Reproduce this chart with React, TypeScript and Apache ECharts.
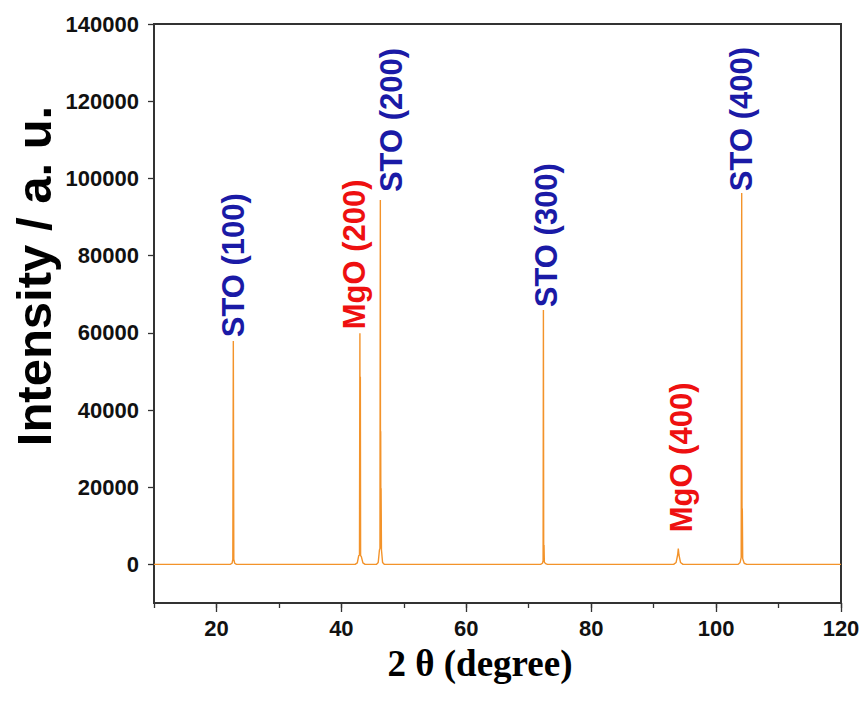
import React, { useEffect, useRef } from "react";
import * as echarts from "echarts";

// XRD pattern: 2θ (degree) and intensity (a. u.)
const twoTheta = [
  10, 22.2, 22.5, 22.62, 22.7, 22.78, 22.92, 23.2,
  42.2, 42.55, 42.78, 42.9, 42.97, 43.0, 43.04, 43.08, 43.2, 43.45, 43.8,
  45.6, 45.9, 46.1, 46.18, 46.24, 46.27, 46.3, 46.33, 46.36, 46.42, 46.6, 46.9,
  71.9, 72.2, 72.3, 72.35, 72.4, 72.45, 72.5, 72.7, 73.0,
  93.2, 93.6, 93.85, 93.95, 94.05, 94.3, 94.7,
  103.5, 103.85, 104.02, 104.1, 104.16, 104.2, 104.26, 104.5, 104.9,
  120,
];
const intensity = [
  0, 0, 300, 1300, 57900, 1300, 300, 0,
  0, 400, 2300, 2400, 59900, 2600, 48600, 2300, 2000, 400, 0,
  0, 500, 3800, 4100, 94400, 4100, 34500, 4100, 19700, 3800, 500, 0,
  0, 300, 1000, 65900, 1000, 5000, 600, 200, 0,
  0, 500, 2500, 4100, 2500, 500, 0,
  0, 500, 1800, 96200, 1800, 14500, 1500, 300, 0,
  0,
];

// Peak annotations
const peakLabels = ["STO (100)", "MgO (200)", "STO (200)", "STO (300)", "MgO (400)", "STO (400)"];
const peakPhase = ["STO", "MgO", "STO", "STO", "MgO", "STO"];
const labelTheta = [22.7, 43.0, 46.24, 72.35, 93.95, 104.1];
const labelIntensity = [58850, 60930, 96450, 66630, 8300, 96700];

// Axis ticks
const xTickLabels = [20, 40, 60, 80, 100, 120];
const yTickValues = [0, 20000, 40000, 60000, 80000, 100000, 120000, 140000];

const phaseColor: Record<string, string> = { STO: "#1a1aa6", MgO: "#ee1010" };
const labelDx = [0, -6, 11, 3, 3, 0];

export default function App() {
  const ref = useRef<HTMLDivElement>(null);
  useEffect(() => {
    if (!ref.current) return;
    const chart = echarts.init(ref.current, null, { renderer: "svg" });
    const axisColor = "#333";
    const tickFont = { fontFamily: '"Liberation Sans", Arial, sans-serif', fontWeight: "bold" as const, fontSize: 22, color: "#111" };
    chart.setOption({
      animation: false,
      backgroundColor: "#fff",
      grid: { left: 154, right: 24, top: 24, bottom: 103, show: true, borderColor: axisColor, borderWidth: 2, backgroundColor: "transparent" },
      xAxis: [
        {
          type: "value", position: "bottom", min: 10, max: 120, interval: 10,
          axisLine: { show: true, onZero: false, lineStyle: { color: axisColor, width: 2 } },
          axisTick: { show: true, inside: false, length: 5, lineStyle: { color: axisColor, width: 1.3 } },
          axisLabel: { ...tickFont, margin: 14, formatter: (v: number) => (xTickLabels.includes(v) ? String(v) : "") },
          splitLine: { show: false },
        },
        {
          type: "value", position: "bottom", min: 10, max: 120,
          axisLine: { show: false, onZero: false },
          axisTick: { show: true, inside: false, length: 9, customValues: xTickLabels, lineStyle: { color: axisColor, width: 1.3 } },
          axisLabel: { show: false },
          splitLine: { show: false },
        },
      ],
      yAxis: {
        type: "value", min: -10000, max: 140000,
        axisLine: { show: true, onZero: false, lineStyle: { color: axisColor, width: 2 } },
        axisTick: { show: true, inside: false, length: 6, customValues: yTickValues, lineStyle: { color: axisColor, width: 1.3 } },
        axisLabel: { ...tickFont, margin: 15, customValues: yTickValues, formatter: (v: number) => String(v) },
        splitLine: { show: false },
      },
      series: [
        {
          type: "line",
          xAxisIndex: 0,
          data: twoTheta.map((t, i) => [t, intensity[i]]),
          showSymbol: false,
          symbol: "none",
          lineStyle: { color: "#f3932a", width: 1.4 },
          z: 2,
        },
        {
          type: "scatter",
          xAxisIndex: 0,
          symbolSize: 0,
          silent: true,
          itemStyle: { opacity: 1 },
          data: labelTheta.map((t, i) => ({
            value: [t, labelIntensity[i]],
            label: {
              show: true,
              formatter: peakLabels[i],
              color: phaseColor[peakPhase[i]],
              offset: [0, labelDx[i]],
            },
          })),
          label: {
            show: true,
            position: "inside",
            rotate: 90,
            align: "left",
            verticalAlign: "middle",
            fontFamily: '"Liberation Sans", Arial, sans-serif',
            fontWeight: "bold",
            fontSize: 31,
            opacity: 1,
          },
          z: 3,
        },
      ],
      graphic: [
        {
          type: "text", x: 34, y: 276, rotation: Math.PI / 2,
          style: {
            text: "Intensity / a. u.",
            font: 'bold 49px "Liberation Sans", Arial, sans-serif',
            fill: "#000", textAlign: "center", textVerticalAlign: "middle",
          },
        },
        {
          type: "text", x: 480, y: 663,
          style: {
            text: "2 θ (degree)",
            font: 'bold 37px "Liberation Serif", "Times New Roman", serif',
            fill: "#000", textAlign: "center", textVerticalAlign: "middle",
          },
        },
      ],
    });
    return () => chart.dispose();
  }, []);
  return <div ref={ref} style={{ position: "fixed", left: 0, top: 0, width: 865, height: 706, background: "#fff" }} />;
}
